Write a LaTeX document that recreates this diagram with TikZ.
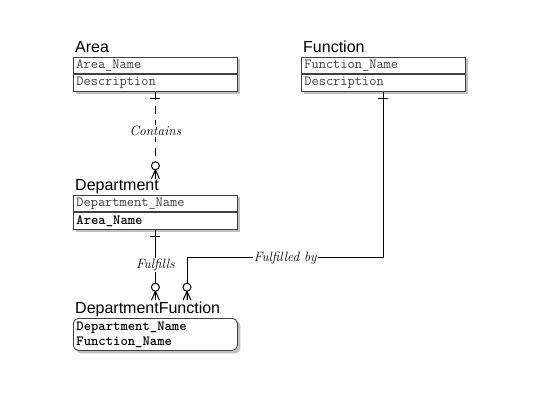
\documentclass[tikz,border=0pt]{standalone}
\usepackage{fontspec}
\setsansfont{Liberation Sans}
\usepackage{tikz}
\usetikzlibrary{positioning, calc, shadows, backgrounds, fit, decorations.markings}

\begin{document}
\begin{tikzpicture}[x=1pt, y=-1pt,
    title/.style={anchor=base west, inner sep=1pt, font=\sffamily\fontsize{16}{16}\selectfont},
    attr/.style={draw=black!75, line width=0.8pt, anchor=north west, minimum height=16.5pt, text width=158pt, inner xsep=3pt, inner ysep=0pt, font=\ttfamily\fontsize{14}{15}\selectfont, text=black!75},
    key/.style={attr, font=\ttfamily\bfseries\fontsize{14}{15}\selectfont, text=black},
    shade/.style={fill=white, inner sep=0pt, drop shadow={shadow xshift=2.5pt, shadow yshift=-2.5pt, opacity=0.5}},
    rel/.style={line width=1pt, postaction={decorate}, decoration={markings,
        mark=at position 7pt with {\draw[solid] (0,-5pt) -- (0,5pt);},
        mark=at position 1 with {\draw[solid] (-9pt,0) -- (0,-4pt) (-9pt,0) -- (0,4pt) (-9pt,0) -- (0,0);
            \draw[solid, fill=white] (-13pt,0) circle (4pt);}}},
    lbl/.style={fill=white, inner sep=1pt, font=\itshape\fontsize{13.5}{13.5}\selectfont}]
        \useasboundingbox (0,0) rectangle (540,411);

        \node[title] (areaT) at (74,53) {Area};
        \node[attr] (areaname) at (73,57) {Area\_Name};
        \node[attr] (areadesc) at (areaname.south west) {Description};

        \node[title] (funcT) at (302,53) {Function};
        \node[attr] (funcname) at (301,57) {Function\_Name};
        \node[attr] (funcdesc) at (funcname.south west) {Description};

        \node[title] (deptT) at (74,191) {Department};
        \node[attr] (deptname) at (73,195) {Department\_Name};
        \node[key] (deptarea) at (deptname.south west) {Area\_Name};

        \node[title] (dfT) at (74,313) {DepartmentFunction};
        \node[key, rounded corners=5pt, minimum height=32pt, align=left] (dfkeys) at (73,318) {Department\_Name\\Function\_Name};

        \begin{scope}[on background layer]
            \node[shade, fit=(areaname)(areadesc)] {};
            \node[shade, fit=(funcname)(funcdesc)] {};
            \node[shade, fit=(deptname)(deptarea)] {};
            \node[shade, rounded corners=5pt, fit=(dfkeys)] {};
        \end{scope}

        \draw[rel, dash pattern=on 8pt off 6pt] (areadesc.south) -- (areadesc.south |- deptT.north) node[lbl, pos=0.45] {Contains};
        \draw[rel] (deptarea.south) -- (deptarea.south |- dfT.north) node[lbl, midway] {Fulfills};
        \coordinate (fbend) at (187,258);
        \draw[rel] (funcdesc.south) |- (fbend) node[lbl, pos=0.75] {Fulfilled by} -- (fbend |- dfT.north);
\end{tikzpicture}
\end{document}
